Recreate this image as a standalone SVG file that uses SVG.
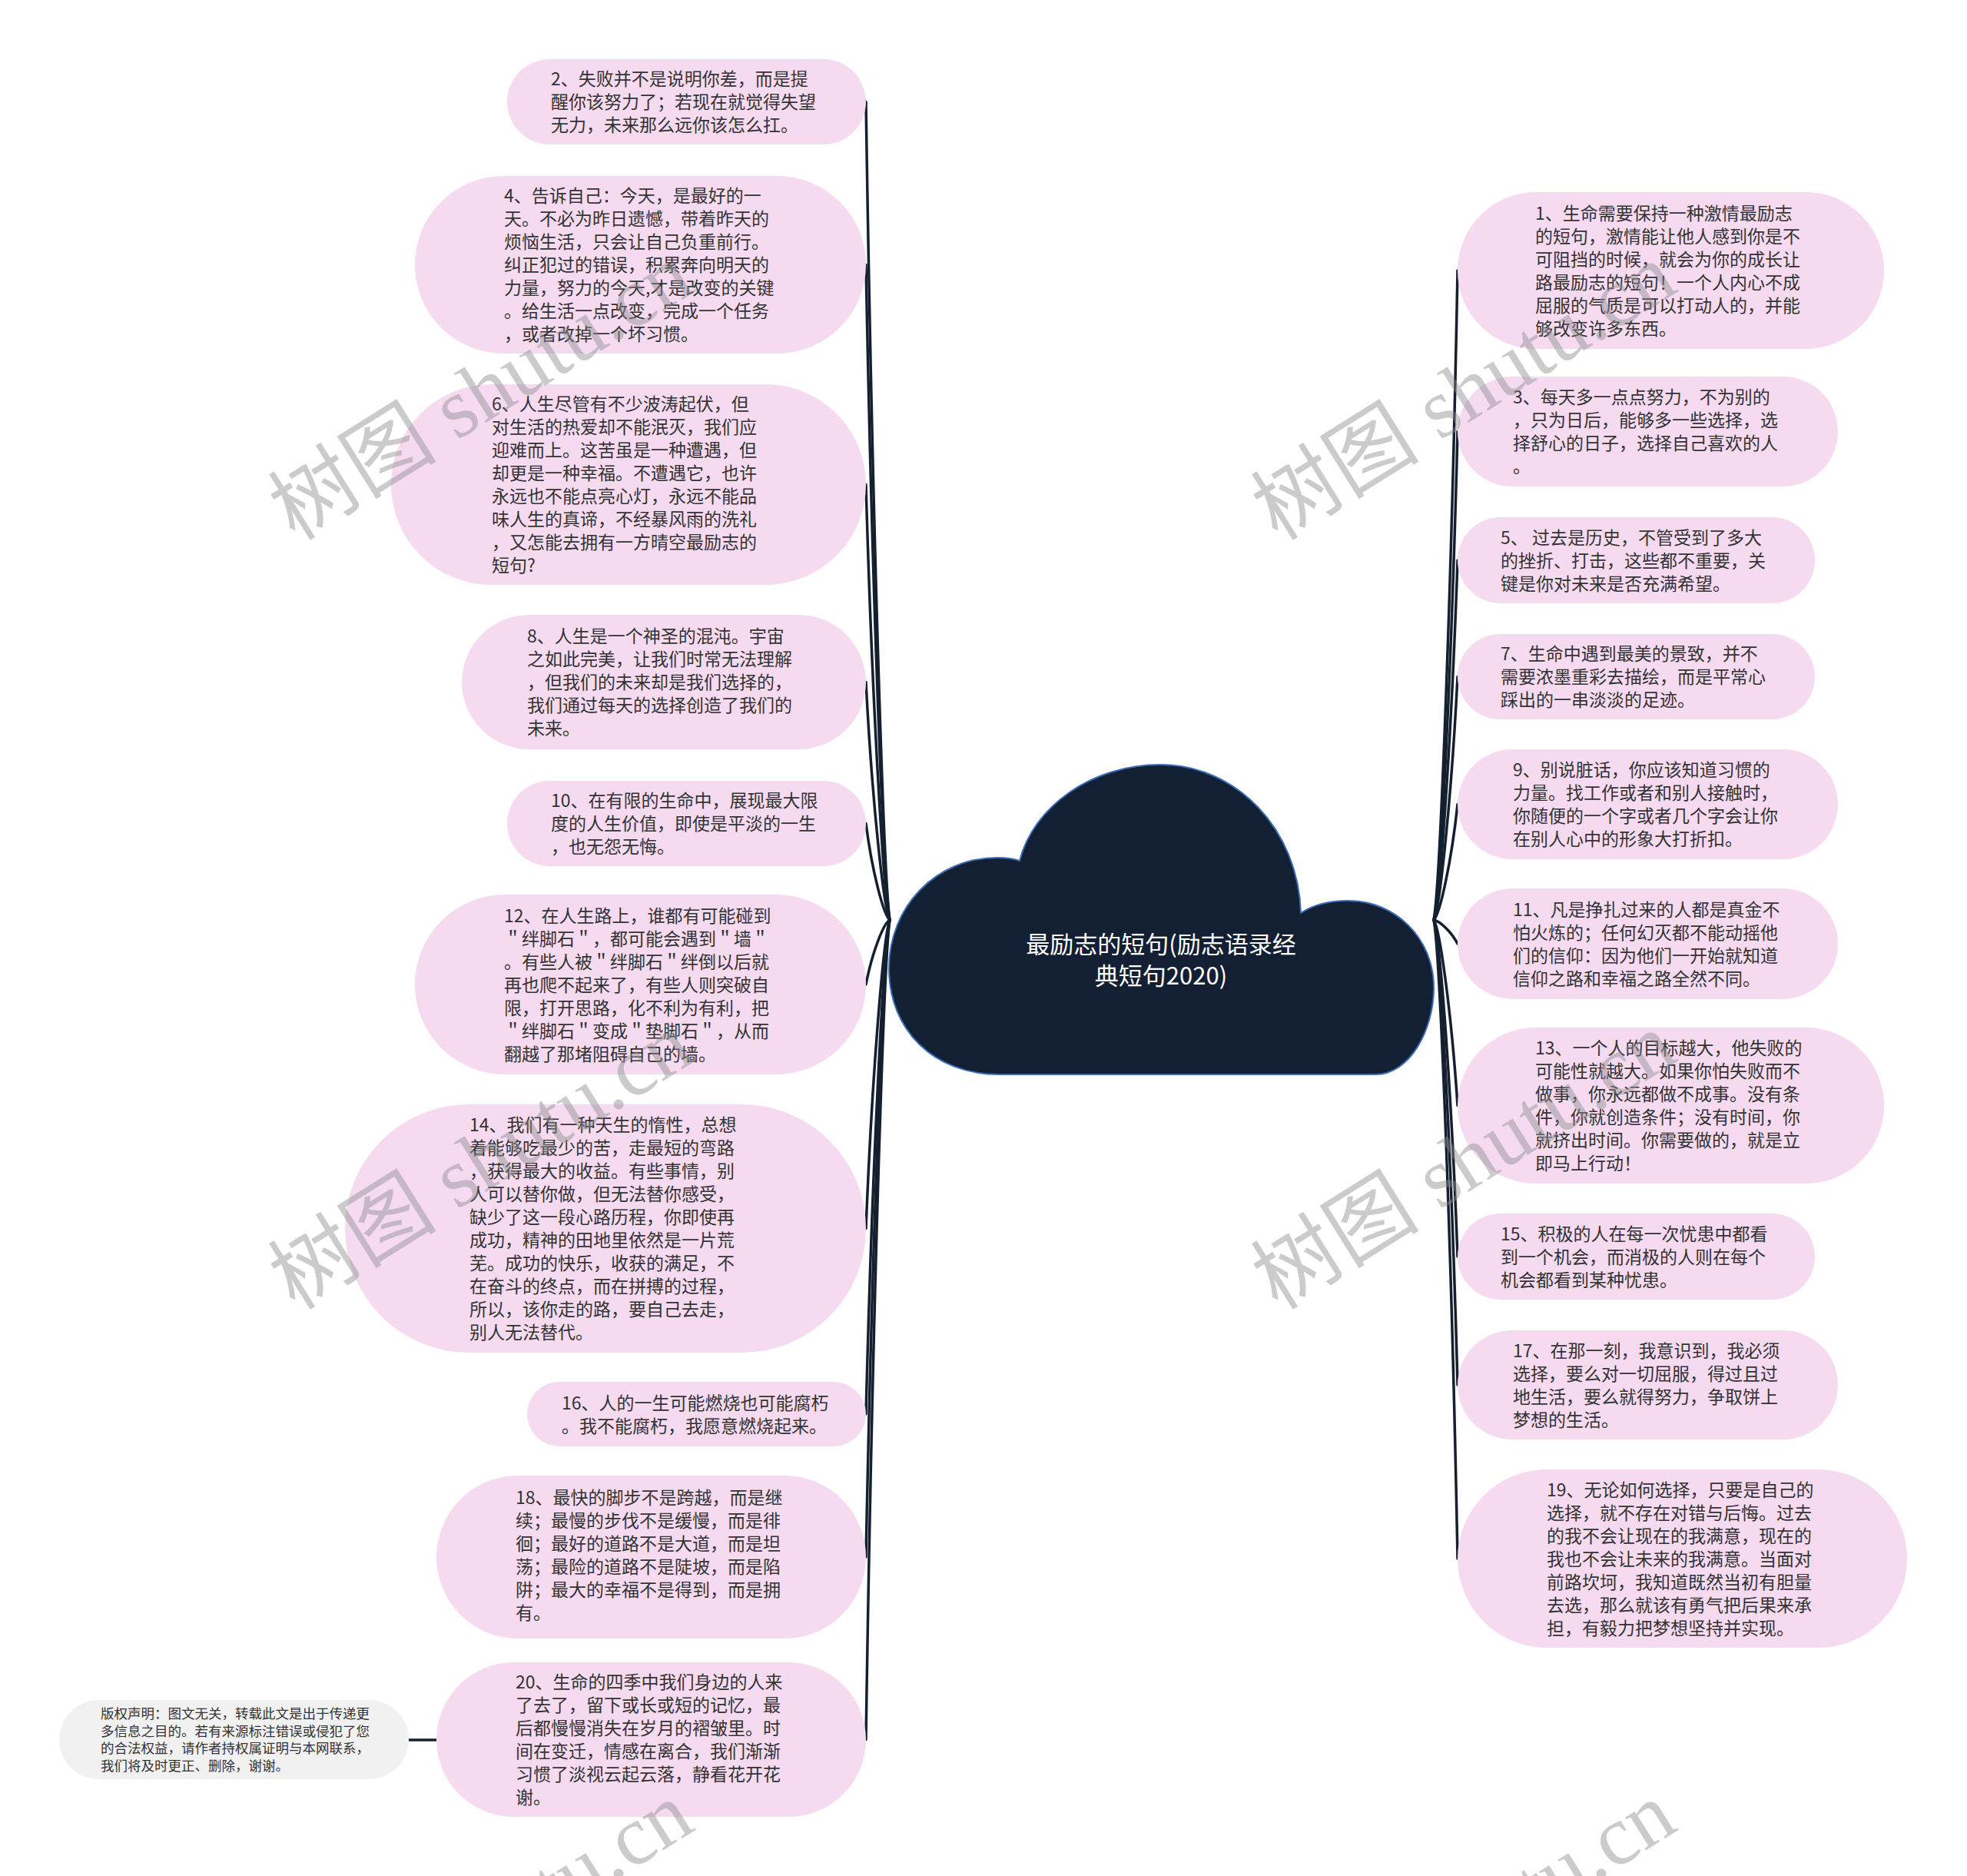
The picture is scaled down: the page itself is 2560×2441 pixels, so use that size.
<svg xmlns="http://www.w3.org/2000/svg" width="2560" height="2441" viewBox="0 0 2560 2441">
<style>
.bg{fill:#ffffff}
.pill{fill:#f5daf0}
.gray{fill:#f1f1f1}
.t{font-family:"Noto Sans CJK SC","Noto Sans",sans-serif;font-size:23px;fill:#333333}
.cp{font-family:"Noto Sans CJK SC","Noto Sans",sans-serif;font-size:17.5px;fill:#333333}
.title{font-family:"Noto Sans CJK SC","Noto Sans",sans-serif;font-size:31px;fill:#ffffff;text-anchor:middle}
.ln{fill:none;stroke:#14202f;stroke-width:3.5;stroke-linecap:round}
.wm{font-family:"Liberation Serif","Noto Sans CJK SC",serif;font-size:110px;fill:#8c8c8c;fill-opacity:0.45}
</style>
<rect class="bg" x="0" y="0" width="2560" height="2441"/>
<g id="connectors">
<path class="ln" d="M1127 132.5 C1135 664.75 1150 1143.8 1158 1197"/>
<path class="ln" d="M1127 344.5 C1135 770.75 1150 1154.4 1158 1197"/>
<path class="ln" d="M1127 630.5 C1135 913.75 1150 1168.7 1158 1197"/>
<path class="ln" d="M1127 887.5 C1135 1042.25 1150 1181.5 1158 1197"/>
<path class="ln" d="M1127 1071.5 C1135 1134.25 1150 1190.7 1158 1197"/>
<path class="ln" d="M1127 1281 C1135 1239 1150 1201.2 1158 1197"/>
<path class="ln" d="M1127 1598.5 C1135 1397.75 1150 1217.1 1158 1197"/>
<path class="ln" d="M1127 1840 C1135 1518.5 1150 1229.2 1158 1197"/>
<path class="ln" d="M1127 2026 C1135 1611.5 1150 1238.5 1158 1197"/>
<path class="ln" d="M1127 2263.5 C1135 1730.25 1150 1250.3 1158 1197"/>
<path class="ln" d="M1897 352 C1889 774.5 1874 1154.75 1866 1197"/>
<path class="ln" d="M1897 561.5 C1889 879.25 1874 1165.2 1866 1197"/>
<path class="ln" d="M1897 729 C1889 963 1874 1173.6 1866 1197"/>
<path class="ln" d="M1897 880.5 C1889 1038.75 1874 1181.2 1866 1197"/>
<path class="ln" d="M1897 1046.5 C1889 1121.75 1874 1189.5 1866 1197"/>
<path class="ln" d="M1897 1228 C1889 1212.5 1874 1198.55 1866 1197"/>
<path class="ln" d="M1897 1438.5 C1889 1317.75 1874 1209.1 1866 1197"/>
<path class="ln" d="M1897 1635 C1889 1416 1874 1218.9 1866 1197"/>
<path class="ln" d="M1897 1802 C1889 1499.5 1874 1227.25 1866 1197"/>
<path class="ln" d="M1897 2028 C1889 1612.5 1874 1238.55 1866 1197"/>
<path class="ln" d="M532 2264 L568 2264"/>
</g>
<g id="root">
<path d="M1300 1398 L1790 1398 C1835 1398 1866 1340 1866 1285 C1866 1220 1815 1172 1755 1172 C1730 1172 1708 1178 1693 1188 C1690 1080 1610 995 1510 995 C1420 995 1345 1050 1327 1120 C1318 1117 1308 1116 1298 1116 C1218 1116 1157 1180 1157 1260 C1157 1340 1215 1398 1300 1398 Z" fill="#132033" stroke="#3a6cb5" stroke-width="2"/>
<text class="title"><tspan x="1511" y="1240">最励志的短句(励志语录经</tspan><tspan x="1511" y="1281">典短句2020)</tspan></text>
</g>
<g id="n2"><rect class="pill" x="660" y="77" width="467" height="111" rx="55.5"/>
<text class="t"><tspan x="717" y="111">2、失败并不是说明你差，而是提</tspan><tspan x="717" y="141">醒你该努力了；若现在就觉得失望</tspan><tspan x="717" y="171">无力，未来那么远你该怎么扛。</tspan></text></g>
<g id="n4"><rect class="pill" x="540" y="229" width="587" height="231" rx="115.5"/>
<text class="t"><tspan x="656" y="263">4、告诉自己：今天，是最好的一</tspan><tspan x="656" y="293">天。不必为昨日遗憾，带着昨天的</tspan><tspan x="656" y="323">烦恼生活，只会让自己负重前行。</tspan><tspan x="656" y="353">纠正犯过的错误，积累奔向明天的</tspan><tspan x="656" y="383">力量，努力的今天,才是改变的关键</tspan><tspan x="656" y="413">。给生活一点改变，完成一个任务</tspan><tspan x="656" y="443">，或者改掉一个坏习惯。</tspan></text></g>
<g id="n6"><rect class="pill" x="509" y="500" width="618" height="261" rx="130.5"/>
<text class="t"><tspan x="640" y="534">6、人生尽管有不少波涛起伏，但</tspan><tspan x="640" y="564">对生活的热爱却不能泯灭，我们应</tspan><tspan x="640" y="594">迎难而上。这苦虽是一种遭遇，但</tspan><tspan x="640" y="624">却更是一种幸福。不遭遇它，也许</tspan><tspan x="640" y="654">永远也不能点亮心灯，永远不能品</tspan><tspan x="640" y="684">味人生的真谛，不经暴风雨的洗礼</tspan><tspan x="640" y="714">，又怎能去拥有一方晴空最励志的</tspan><tspan x="640" y="744">短句?</tspan></text></g>
<g id="n8"><rect class="pill" x="601" y="800" width="526" height="175" rx="87.5"/>
<text class="t"><tspan x="686" y="836">8、人生是一个神圣的混沌。宇宙</tspan><tspan x="686" y="866">之如此完美，让我们时常无法理解</tspan><tspan x="686" y="896">，但我们的未来却是我们选择的，</tspan><tspan x="686" y="926">我们通过每天的选择创造了我们的</tspan><tspan x="686" y="956">未来。</tspan></text></g>
<g id="n10"><rect class="pill" x="660" y="1016" width="467" height="111" rx="55.5"/>
<text class="t"><tspan x="717" y="1050">10、在有限的生命中，展现最大限</tspan><tspan x="717" y="1080">度的人生价值，即使是平淡的一生</tspan><tspan x="717" y="1110">，也无怨无悔。</tspan></text></g>
<g id="n12"><rect class="pill" x="540" y="1164" width="587" height="234" rx="117"/>
<text class="t"><tspan x="656" y="1200">12、在人生路上，谁都有可能碰到</tspan><tspan x="656" y="1230">＂绊脚石＂，都可能会遇到＂墙＂</tspan><tspan x="656" y="1260">。有些人被＂绊脚石＂绊倒以后就</tspan><tspan x="656" y="1290">再也爬不起来了，有些人则突破自</tspan><tspan x="656" y="1320">限，打开思路，化不利为有利，把</tspan><tspan x="656" y="1350">＂绊脚石＂变成＂垫脚石＂，从而</tspan><tspan x="656" y="1380">翻越了那堵阻碍自己的墙。</tspan></text></g>
<g id="n14"><rect class="pill" x="449" y="1437" width="678" height="323" rx="161.5"/>
<text class="t"><tspan x="611" y="1472">14、我们有一种天生的惰性，总想</tspan><tspan x="611" y="1502">着能够吃最少的苦，走最短的弯路</tspan><tspan x="611" y="1532">，获得最大的收益。有些事情，别</tspan><tspan x="611" y="1562">人可以替你做，但无法替你感受，</tspan><tspan x="611" y="1592">缺少了这一段心路历程，你即使再</tspan><tspan x="611" y="1622">成功，精神的田地里依然是一片荒</tspan><tspan x="611" y="1652">芜。成功的快乐，收获的满足，不</tspan><tspan x="611" y="1682">在奋斗的终点，而在拼搏的过程，</tspan><tspan x="611" y="1712">所以，该你走的路，要自己去走，</tspan><tspan x="611" y="1742">别人无法替代。</tspan></text></g>
<g id="n16"><rect class="pill" x="686" y="1798" width="441" height="84" rx="42"/>
<text class="t"><tspan x="731" y="1834">16、人的一生可能燃烧也可能腐朽</tspan><tspan x="731" y="1864">。我不能腐朽，我愿意燃烧起来。</tspan></text></g>
<g id="n18"><rect class="pill" x="568" y="1920" width="559" height="212" rx="106"/>
<text class="t"><tspan x="671" y="1957">18、最快的脚步不是跨越，而是继</tspan><tspan x="671" y="1987">续；最慢的步伐不是缓慢，而是徘</tspan><tspan x="671" y="2017">徊；最好的道路不是大道，而是坦</tspan><tspan x="671" y="2047">荡；最险的道路不是陡坡，而是陷</tspan><tspan x="671" y="2077">阱；最大的幸福不是得到，而是拥</tspan><tspan x="671" y="2107">有。</tspan></text></g>
<g id="n20"><rect class="pill" x="568" y="2163" width="559" height="201" rx="100.5"/>
<text class="t"><tspan x="671" y="2197">20、生命的四季中我们身边的人来</tspan><tspan x="671" y="2227">了去了，留下或长或短的记忆，最</tspan><tspan x="671" y="2257">后都慢慢消失在岁月的褶皱里。时</tspan><tspan x="671" y="2287">间在变迁，情感在离合，我们渐渐</tspan><tspan x="671" y="2317">习惯了淡视云起云落，静看花开花</tspan><tspan x="671" y="2347">谢。</tspan></text></g>
<g id="copyright"><rect class="gray" x="77" y="2212" width="455" height="103" rx="51.5"/>
<text class="cp"><tspan x="131" y="2235.5">版权声明：图文无关，转载此文是出于传递更</tspan><tspan x="131" y="2258.5">多信息之目的。若有来源标注错误或侵犯了您</tspan><tspan x="131" y="2280.5">的合法权益，请作者持权属证明与本网联系，</tspan><tspan x="131" y="2303.5">我们将及时更正、删除，谢谢。</tspan></text></g>
<g id="n1"><rect class="pill" x="1897" y="250" width="555" height="204" rx="102"/>
<text class="t"><tspan x="1998" y="286">1、生命需要保持一种激情最励志</tspan><tspan x="1998" y="316">的短句，激情能让他人感到你是不</tspan><tspan x="1998" y="346">可阻挡的时候，就会为你的成长让</tspan><tspan x="1998" y="376">路最励志的短句！一个人内心不成</tspan><tspan x="1998" y="406">屈服的气质是可以打动人的，并能</tspan><tspan x="1998" y="436">够改变许多东西。</tspan></text></g>
<g id="n3"><rect class="pill" x="1897" y="490" width="495" height="143" rx="71.5"/>
<text class="t"><tspan x="1969" y="525">3、每天多一点点努力，不为别的</tspan><tspan x="1969" y="555">，只为日后，能够多一些选择，选</tspan><tspan x="1969" y="585">择舒心的日子，选择自己喜欢的人</tspan><tspan x="1969" y="615">。</tspan></text></g>
<g id="n5"><rect class="pill" x="1897" y="673" width="465" height="112" rx="56"/>
<text class="t"><tspan x="1953" y="708">5、 过去是历史，不管受到了多大</tspan><tspan x="1953" y="738">的挫折、打击，这些都不重要，关</tspan><tspan x="1953" y="768">键是你对未来是否充满希望。</tspan></text></g>
<g id="n7"><rect class="pill" x="1897" y="825" width="465" height="111" rx="55.5"/>
<text class="t"><tspan x="1953" y="859">7、生命中遇到最美的景致，并不</tspan><tspan x="1953" y="889">需要浓墨重彩去描绘，而是平常心</tspan><tspan x="1953" y="919">踩出的一串淡淡的足迹。</tspan></text></g>
<g id="n9"><rect class="pill" x="1897" y="975" width="495" height="143" rx="71.5"/>
<text class="t"><tspan x="1969" y="1010">9、别说脏话，你应该知道习惯的</tspan><tspan x="1969" y="1040">力量。找工作或者和别人接触时，</tspan><tspan x="1969" y="1070">你随便的一个字或者几个字会让你</tspan><tspan x="1969" y="1100">在别人心中的形象大打折扣。</tspan></text></g>
<g id="n11"><rect class="pill" x="1897" y="1156" width="495" height="144" rx="72"/>
<text class="t"><tspan x="1969" y="1192">11、凡是挣扎过来的人都是真金不</tspan><tspan x="1969" y="1222">怕火炼的；任何幻灭都不能动摇他</tspan><tspan x="1969" y="1252">们的信仰：因为他们一开始就知道</tspan><tspan x="1969" y="1282">信仰之路和幸福之路全然不同。</tspan></text></g>
<g id="n13"><rect class="pill" x="1897" y="1337" width="555" height="203" rx="101.5"/>
<text class="t"><tspan x="1998" y="1372">13、一个人的目标越大，他失败的</tspan><tspan x="1998" y="1402">可能性就越大。如果你怕失败而不</tspan><tspan x="1998" y="1432">做事，你永远都做不成事。没有条</tspan><tspan x="1998" y="1462">件，你就创造条件；没有时间，你</tspan><tspan x="1998" y="1492">就挤出时间。你需要做的，就是立</tspan><tspan x="1998" y="1522">即马上行动！</tspan></text></g>
<g id="n15"><rect class="pill" x="1897" y="1579" width="465" height="112" rx="56"/>
<text class="t"><tspan x="1953" y="1614">15、积极的人在每一次忧患中都看</tspan><tspan x="1953" y="1644">到一个机会，而消极的人则在每个</tspan><tspan x="1953" y="1674">机会都看到某种忧患。</tspan></text></g>
<g id="n17"><rect class="pill" x="1897" y="1731" width="495" height="142" rx="71"/>
<text class="t"><tspan x="1969" y="1766">17、在那一刻，我意识到，我必须</tspan><tspan x="1969" y="1796">选择，要么对一切屈服，得过且过</tspan><tspan x="1969" y="1826">地生活，要么就得努力，争取饼上</tspan><tspan x="1969" y="1856">梦想的生活。</tspan></text></g>
<g id="n19"><rect class="pill" x="1897" y="1912" width="585" height="232" rx="116"/>
<text class="t"><tspan x="2013" y="1947">19、无论如何选择，只要是自己的</tspan><tspan x="2013" y="1977">选择，就不存在对错与后悔。过去</tspan><tspan x="2013" y="2007">的我不会让现在的我满意，现在的</tspan><tspan x="2013" y="2037">我也不会让未来的我满意。当面对</tspan><tspan x="2013" y="2067">前路坎坷，我知道既然当初有胆量</tspan><tspan x="2013" y="2097">去选，那么就该有勇气把后果来承</tspan><tspan x="2013" y="2127">担，有毅力把梦想坚持并实现。</tspan></text></g>
<g id="watermarks">
<text class="wm" transform="translate(384 705) rotate(-32)">树图 shutu.cn</text>
<text class="wm" transform="translate(384 1706) rotate(-32)">树图 shutu.cn</text>
<text class="wm" transform="translate(384 2707) rotate(-32)">树图 shutu.cn</text>
<text class="wm" transform="translate(1663 705) rotate(-32)">树图 shutu.cn</text>
<text class="wm" transform="translate(1663 1706) rotate(-32)">树图 shutu.cn</text>
<text class="wm" transform="translate(1663 2707) rotate(-32)">树图 shutu.cn</text>
</g>
</svg>
